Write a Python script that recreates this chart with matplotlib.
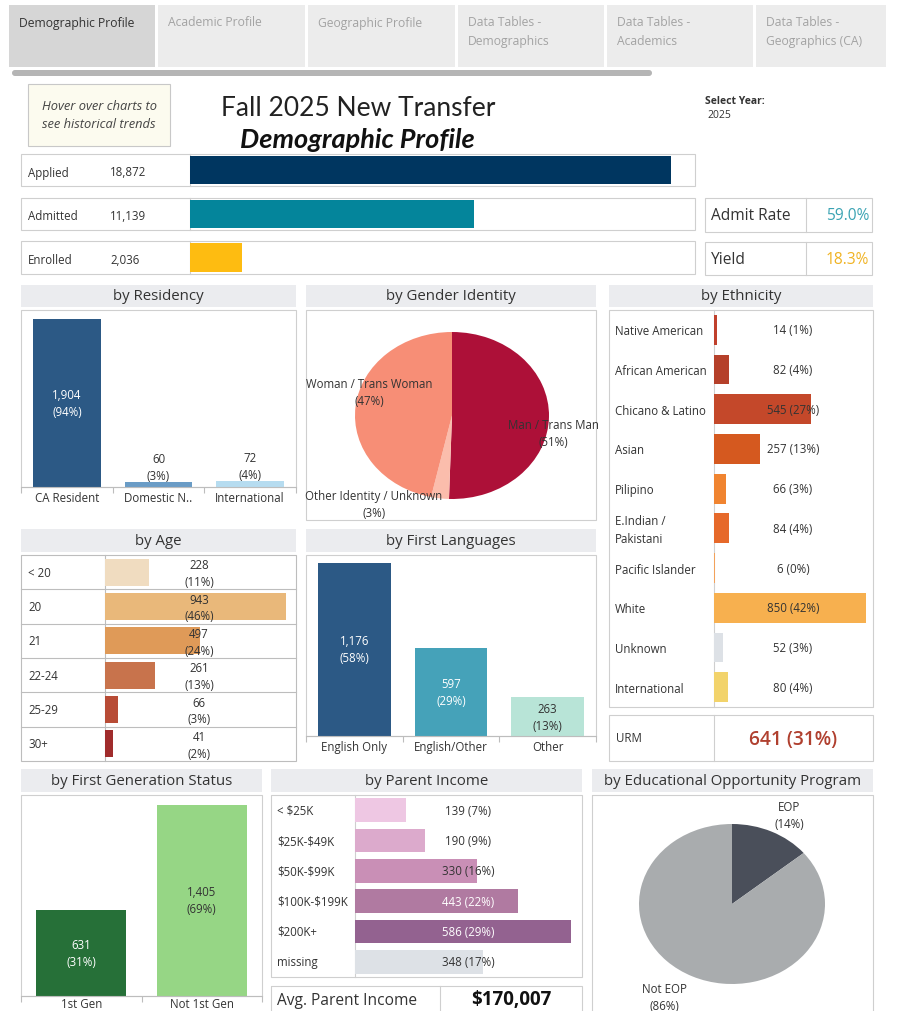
import matplotlib.pyplot as plt
from matplotlib.patches import Rectangle, FancyBboxPatch

plt.rcParams['font.family'] = ['Open Sans', 'DejaVu Sans']

W, H = 897, 1012

# data
tabs = ['Demographic Profile', 'Academic Profile', 'Geographic Profile',
        'Data Tables -\nDemographics', 'Data Tables -\nAcademics',
        'Data Tables -\nGeographics (CA)']

funnel_labels = ['Applied', 'Admitted', 'Enrolled']
funnel_values = [18872, 11139, 2036]
admit_rate = '59.0%'
yield_rate = '18.3%'

res_labels = ['CA Resident', 'Domestic N..', 'International']
res_values = [1904, 60, 72]
res_pct = [94, 3, 4]

gender_labels = ['Man / Trans Man', 'Other Identity / Unknown', 'Woman / Trans Woman']
gender_pct = [51, 3, 47]

eth_labels = ['Native American', 'African American', 'Chicano & Latino', 'Asian',
              'Pilipino', 'E.Indian /\nPakistani', 'Pacific Islander', 'White',
              'Unknown', 'International']
eth_values = [14, 82, 545, 257, 66, 84, 6, 850, 52, 80]
eth_pct = [1, 4, 27, 13, 3, 4, 0, 42, 3, 4]
urm_value = 641
urm_pct = 31

age_labels = ['< 20', '20', '21', '22-24', '25-29', '30+']
age_values = [228, 943, 497, 261, 66, 41]
age_pct = [11, 46, 24, 13, 3, 2]

lang_labels = ['English Only', 'English/Other', 'Other']
lang_values = [1176, 597, 263]
lang_pct = [58, 29, 13]

gen_labels = ['1st Gen', 'Not 1st Gen']
gen_values = [631, 1405]
gen_pct = [31, 69]

inc_labels = ['< $25K', '$25K-$49K', '$50K-$99K', '$100K-$199K', '$200K+', 'missing']
inc_values = [139, 190, 330, 443, 586, 348]
inc_pct = [7, 9, 16, 22, 29, 17]
avg_income = 170007

eop_labels = ['EOP', 'Not EOP']
eop_pct = [14, 86]

# colours
funnel_colors = ['#003660', '#04859b', '#febc11']
res_colors = ['#2c5985', '#6a9cc6', '#b6dcf0']
gender_colors = ['#ad1038', '#fbbdac', '#f78e76']
eth_colors = ['#c0402c', '#b5402a', '#c4482a', '#d5591f', '#f08430', '#e6692a',
              '#f3a25b', '#f7b04f', '#dde1e6', '#f2d36b']
age_colors = ['#f0dcc0', '#e9b87a', '#df9a58', '#c8734c', '#b84c36', '#a02c2c']
lang_colors = ['#2c5985', '#45a2b9', '#b8e4d7']
gen_colors = ['#267038', '#96d685']
inc_colors = ['#eec7e3', '#dcaacc', '#c98fb6', '#b07aa1', '#936290', '#dde1e6']
eop_colors = ['#4a4f5a', '#a9acae']

GRID = '#cfcfcf'
TXT = '#333333'
FS = 8.3

fig = plt.figure(figsize=(W / 100, H / 100), dpi=100)
fig.patch.set_facecolor('white')

bg = fig.add_axes([0, 0, 1, 1])
bg.set_xlim(0, W)
bg.set_ylim(H, 0)
bg.axis('off')


def ax_px(x0, y0, x1, y1):
    a = fig.add_axes([x0 / W, 1 - y1 / H, (x1 - x0) / W, (y1 - y0) / H])
    a.set_facecolor('none')
    return a


def T(x, y, s, **kw):
    kw.setdefault('fontsize', FS)
    kw.setdefault('color', TXT)
    kw.setdefault('va', 'center')
    kw.setdefault('parse_math', False)
    return fig.text(x / W, 1 - y / H, s, **kw)


def box(x0, y0, x1, y1, fc='none', ec=GRID, lw=0.8):
    bg.add_patch(Rectangle((x0, y0), x1 - x0, y1 - y0, fc=fc, ec=ec, lw=lw))


def vline(x, y0, y1, c=GRID):
    bg.plot([x, x], [y0, y1], color=c, lw=0.8)


def hline(y, x0, x1, c=GRID):
    bg.plot([x0, x1], [y, y], color=c, lw=0.8)


def header(x0, x1, y0, y1, s):
    box(x0, y0, x1, y1, fc='#ebecef', ec='none')
    T((x0 + x1) / 2, (y0 + y1) / 2, s, fontsize=10.8, ha='center')


def pie_px(x0, y0, x1, y1, values, colors):
    a = ax_px(x0, y0, x1, y1)
    a.pie(values, colors=colors, startangle=90, counterclock=False,
          wedgeprops=dict(linewidth=0))
    a.set_aspect('auto')
    a.set_xlim(-1, 1)
    a.set_ylim(-1, 1)
    return a


# tabs
tab_x = [9, 158, 308, 458, 607, 756]
tab_r = [155, 305, 455, 604, 753, 886]
for i, t in enumerate(tabs):
    box(tab_x[i], 6, tab_r[i], 68, fc='#d6d6d6' if i == 0 else '#ececec', ec='none')
    T(tab_x[i] + 10, 16.5, t, fontsize=8.7, va='top', linespacing=1.55,
      color='#333333' if i == 0 else '#a3a3a3')
bg.add_patch(FancyBboxPatch((12, 71), 640, 6, boxstyle='round,pad=0,rounding_size=3',
                            fc='#b5b5b5', ec='none'))

# top area
box(28, 85, 170, 147, fc='#fcfbef', ec='#c8c8c8')
T(99, 116, 'Hover over charts to\nsee historical trends', fontsize=9.3,
  style='italic', ha='center', linespacing=1.5, color='#444444')
T(358, 109, 'Fall 2025 New Transfer', fontsize=19, ha='center', color='#222222',
  family='Lato')
T(357, 140, 'Demographic Profile', fontsize=19.5, ha='center', weight='bold',
  style='italic', color='#111111', family='Lato')
T(705, 102, 'Select Year:', fontsize=7.5, weight='bold')
T(707, 116, '2025', fontsize=7.5)

# funnel rows
rows = [(155, 187), (199, 231), (242, 275)]
for i, (y0, y1) in enumerate(rows):
    box(21, y0, 695, y1)
    vline(190, y0, y1)
    T(28, (y0 + y1) / 2 + 2, funnel_labels[i])
    T(110, (y0 + y1) / 2 + 2, f'{funnel_values[i]:,}')
    a = ax_px(190, y0, 695, y1)
    a.barh([0], [funnel_values[i]], height=0.85, color=funnel_colors[i])
    a.set_xlim(0, 19800)
    a.set_ylim(-0.5, 0.5)
    a.axis('off')

for (y0, y1), lab, val, col in [((199, 233), 'Admit Rate', admit_rate, '#3aa3b3'),
                                 ((243, 276), 'Yield', yield_rate, '#f0b323')]:
    box(705, y0, 872, y1)
    vline(806, y0, y1)
    T(711, (y0 + y1) / 2, lab, fontsize=11.2)
    T(869, (y0 + y1) / 2, val, fontsize=11.2, ha='right', color=col)


def column_chart(x0, y0, x1, y1, labels, values, pct, colors, ymax, width, lab_y,
                 dark_inside=()):
    a = ax_px(x0, y0, x1, y1)
    n = len(values)
    a.bar(range(n), values, width=width, color=colors)
    a.set_xlim(-0.5, n - 0.5)
    a.set_ylim(0, ymax)
    for s in ['top', 'left', 'right']:
        a.spines[s].set_visible(False)
    a.spines['bottom'].set_color('#bdbdbd')
    a.set_yticks([])
    a.set_xticks([k - 0.5 for k in range(n + 1)])
    a.set_xticklabels([])
    a.tick_params(axis='x', length=4, color='#bdbdbd', width=0.8)
    box(x0, y0, x1, y1, ec=GRID)
    for k, lab in enumerate(labels):
        xc = x0 + (k + 0.5) * (x1 - x0) / n
        T(xc, lab_y, lab, ha='center')
        txt = f'{values[k]:,}\n({pct[k]}%)'
        if values[k] > 0.2 * ymax:
            c = TXT if k in dark_inside else 'white'
            a.text(k, values[k] / 2, txt, ha='center', va='center', fontsize=FS,
                   color=c, linespacing=1.4)
        else:
            a.text(k, values[k] * 0.9, txt, ha='center', va='bottom', fontsize=FS,
                   color=TXT, linespacing=1.4)
    return a


# by Residency
header(21, 296, 286, 308, 'by Residency')
column_chart(21, 311, 296, 488, res_labels, res_values, res_pct, res_colors,
             2006, 0.74, 499)

# by Gender Identity
header(306, 596, 286, 308, 'by Gender Identity')
box(306, 311, 596, 521)
pie_px(355, 333, 549, 500, gender_pct, gender_colors)
T(369, 393, f'{gender_labels[2]}\n({gender_pct[2]}%)', ha='center', linespacing=1.4)
T(553, 434, f'{gender_labels[0]}\n({gender_pct[0]}%)', ha='center', linespacing=1.4)
T(374, 505, f'{gender_labels[1]}\n({gender_pct[1]}%)', ha='center', linespacing=1.4)

# by Ethnicity
header(609, 873, 286, 308, 'by Ethnicity')
box(609, 311, 873, 708)
vline(714, 311, 708)
ae = ax_px(714, 311, 873, 708)
ae.barh(range(len(eth_values)), eth_values, height=0.75, color=eth_colors)
ae.set_xlim(0, 890)
ae.set_ylim(len(eth_values) - 0.5, -0.5)
ae.axis('off')
row_h = (708 - 311) / len(eth_values)
for k, lab in enumerate(eth_labels):
    yc = 311 + (k + 0.5) * row_h
    T(615, yc + 1, lab, linespacing=1.5)
    T(793, yc, f'{eth_values[k]} ({eth_pct[k]}%)', ha='center')
box(609, 716, 873, 762)
vline(714, 716, 762)
T(616, 739, 'URM')
T(793, 740, f'{urm_value} ({urm_pct}%)', fontsize=13.8, ha='center', weight='semibold',
  color='#b0402f')

# by Age
header(21, 296, 530, 553, 'by Age')
box(21, 556, 296, 762, ec='#bdbdbd')
vline(105, 556, 762, c='#bdbdbd')
aa = ax_px(105, 556, 296, 762)
aa.barh(range(len(age_values)), age_values, height=0.78, color=age_colors)
aa.set_xlim(0, 995)
aa.set_ylim(len(age_values) - 0.5, -0.5)
aa.axis('off')
row_h = (762 - 556) / len(age_values)
for k, lab in enumerate(age_labels):
    yc = 556 + (k + 0.5) * row_h
    if k > 0:
        hline(556 + k * row_h, 21, 296, c='#bdbdbd')
    T(28, yc, lab)
    T(199, yc + 1, f'{age_values[k]}\n({age_pct[k]}%)', ha='center', linespacing=1.35)

# by First Languages
header(306, 596, 530, 553, 'by First Languages')
column_chart(306, 556, 596, 737, lang_labels, lang_values, lang_pct, lang_colors,
             1230, 0.755, 748, dark_inside=(2,))

# by First Generation Status
header(21, 262, 770, 793, 'by First Generation Status')
column_chart(21, 796, 262, 997, gen_labels, gen_values, gen_pct, gen_colors,
             1478, 0.75, 1005, dark_inside=(1,))

# by Parent Income
header(271, 582, 770, 793, 'by Parent Income')
box(271, 796, 582, 978)
vline(355, 796, 978)
ai = ax_px(355, 796, 582, 978)
ai.barh(range(len(inc_values)), inc_values, height=0.78, color=inc_colors)
ai.set_xlim(0, 616)
ai.set_ylim(len(inc_values) - 0.5, -0.5)
ai.axis('off')
row_h = (978 - 796) / len(inc_values)
for k, lab in enumerate(inc_labels):
    yc = 796 + (k + 0.5) * row_h
    T(277, yc, lab)
    c = 'white' if k in (3, 4) else TXT
    T(468, yc, f'{inc_values[k]} ({inc_pct[k]}%)', ha='center', color=c)
box(271, 987, 582, 1016)
vline(440, 987, 1016)
T(277, 1001, 'Avg. Parent Income', fontsize=11.2)
T(511, 1000, f'${avg_income:,}', fontsize=13.5, ha='center', weight='bold',
  color='#111111')

# by Educational Opportunity Program
header(592, 873, 770, 793, 'by Educational Opportunity Program')
box(592, 796, 873, 1016)
pie_px(639, 825, 825, 985, eop_pct, eop_colors)
T(789, 816, f'{eop_labels[0]}\n({eop_pct[0]}%)', ha='center', linespacing=1.4)
T(664, 998, f'{eop_labels[1]}\n({eop_pct[1]}%)', ha='center', linespacing=1.4)

fig.savefig('out.png', dpi=100, facecolor='white')
